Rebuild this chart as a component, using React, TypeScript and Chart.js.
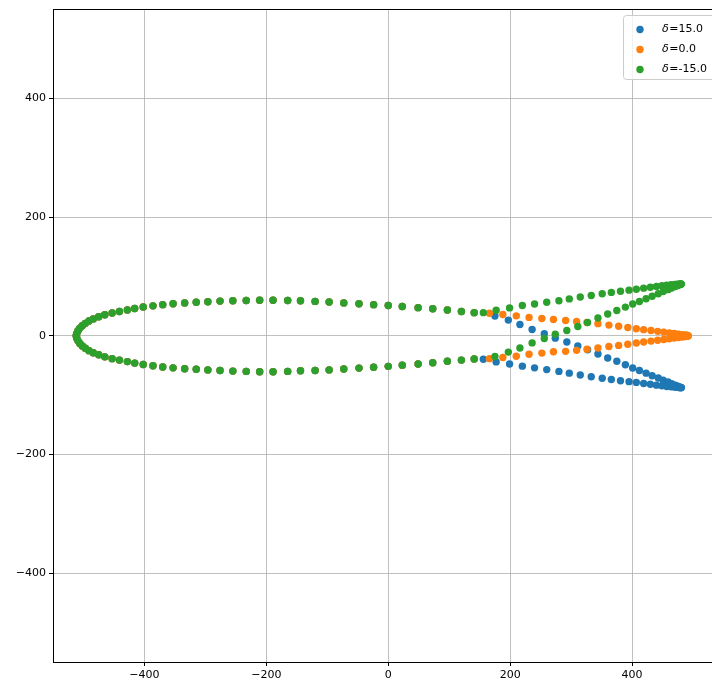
import React, { useEffect, useRef } from 'react';
import { Chart, registerables } from 'chart.js';

Chart.register(...registerables);

const SERIES_LABELS = ['δ=15.0', 'δ=0.0', 'δ=-15.0'];
const SERIES_COLORS = ['#1f77b4', '#ff7f0e', '#2ca02c'];
const TICK_VALUES = [-400, -200, 0, 200, 400];
const AXIS_MIN = -550;
const AXIS_MAX = 550;

// shared (unflapped) part of the section, leading edge to hinge
const commonUpperX = [-512, -511, -509, -506, -502, -497, -491, -484, -475, -465, -453, -441, -428, -416, -402, -386, -370, -353, -334, -315, -296, -276, -255, -233, -211, -189, -165, -144, -120, -97, -73, -48, -24, 0, 23, 49, 73, 97, 120, 141];
const commonUpperY = [0, 4, 8.5, 13, 17, 21, 25, 28.5, 32, 35.5, 38.5, 41, 43.5, 46, 48.5, 50.5, 52.5, 54, 55.5, 56.5, 57.5, 58.5, 59, 59.5, 60, 60, 59.5, 59, 58, 57, 55.5, 54, 52.5, 51, 49.5, 47.5, 45.5, 43.5, 41, 39];
const commonLowerX = [-511, -509, -506, -502, -497, -491, -484, -475, -465, -453, -441, -428, -416, -402, -386, -370, -353, -334, -315, -296, -276, -255, -233, -211, -189, -165, -144, -120, -97, -73, -48, -24, 0, 23, 49, 73, 97, 120, 141];
const commonLowerY = [-4, -8.5, -13, -17, -21, -25, -28.5, -32, -35.5, -38.5, -41, -43.5, -46, -48.5, -50.5, -52.5, -54, -55.5, -56.5, -57.5, -58.5, -59.5, -60, -60.5, -60.5, -60, -59, -58.5, -57.5, -56, -54.5, -53, -51.5, -49.5, -47.5, -45.5, -43, -41, -39];

// δ = 15.0 (flap down)
const blueUpperX = [175, 197, 216, 236, 256, 274, 293, 311, 327, 344, 360, 375, 389, 401, 412, 423, 433, 443, 451, 459, 465, 471, 475, 478, 480, 481];
const blueUpperY = [33.5, 26.5, 19, 10.5, 3.5, -4, -10.5, -17, -23.5, -30.7, -37.4, -43, -48.8, -54.2, -58.5, -63, -67.3, -71.2, -74.8, -78, -80.8, -83.3, -85, -86.2, -86.9, -87.3];
const blueLowerX = [156, 177, 199, 220, 240, 260, 280, 297, 315, 333, 351, 366, 381, 395, 407, 419, 430, 440, 449, 457, 464, 470, 474, 477, 479, 480];
const blueLowerY = [-39.5, -44, -47.5, -51.2, -54, -57, -60, -63, -66, -69, -71.5, -73.8, -75.8, -77.3, -78.6, -80.3, -81.8, -83.2, -84.4, -85.4, -86.1, -86.6, -87, -87.2, -87.4, -87.5];

// δ = 0.0
const orangeUpperX = [166, 188, 210, 231, 252, 271, 291, 309, 326, 344, 362, 378, 393, 407, 419, 431, 442, 452, 461, 469, 476, 482, 486, 489, 491, 492];
const orangeUpperY = [38, 36, 33.6, 31, 29.2, 27.4, 25.8, 24.3, 22.5, 20.5, 18, 16, 14, 12, 10.4, 8.9, 7.5, 6.2, 5, 3.9, 2.9, 2, 1.4, 0.9, 0.5, 0.2];
const orangeLowerX = [166, 188, 210, 231, 252, 271, 291, 309, 326, 344, 362, 378, 393, 407, 419, 431, 442, 452, 461, 469, 476, 482, 486, 489, 491, 492];
const orangeLowerY = [-38.5, -36.5, -34.5, -31, -29.2, -27, -26.2, -24.5, -22.8, -20.6, -18, -16.2, -14.3, -12.2, -10.4, -8.9, -7.5, -6.2, -5, -3.9, -2.9, -2, -1.4, -0.9, -0.5, -0.2];

// δ = -15.0 (flap up)
const greenUpperX = [156, 177, 199, 220, 240, 260, 280, 297, 315, 333, 351, 366, 381, 395, 407, 419, 430, 440, 449, 457, 464, 470, 474, 477, 479, 480];
const greenUpperY = [39, 43, 47, 51, 53.5, 56.5, 59, 62.2, 65.3, 68, 71, 73.2, 75.2, 77, 78.6, 80.3, 81.8, 83.2, 84.4, 85.4, 86.1, 86.6, 87, 87.2, 87.4, 87.5];
const greenLowerX = [175, 197, 216, 236, 256, 274, 293, 311, 327, 344, 360, 375, 389, 401, 412, 423, 433, 443, 451, 459, 465, 471, 475, 478, 480, 481];
const greenLowerY = [-35, -27.5, -20.5, -12, -4.5, 2.5, 9, 15.8, 22.5, 30, 36.8, 42.6, 48.4, 53.5, 57.8, 62.5, 66.8, 70.8, 74.5, 77.8, 80.6, 83.1, 84.9, 86.1, 86.8, 87.2];

const zip = (xs: number[], ys: number[]) => xs.map((x, i) => ({ x, y: ys[i] }));

const seriesPoints = [
  [
    ...zip(commonUpperX, commonUpperY), ...zip(blueUpperX, blueUpperY),
    ...zip(commonLowerX, commonLowerY), ...zip(blueLowerX, blueLowerY),
  ],
  [
    ...zip(commonUpperX, commonUpperY), ...zip(orangeUpperX, orangeUpperY),
    ...zip(commonLowerX, commonLowerY), ...zip(orangeLowerX, orangeLowerY),
  ],
  [
    ...zip(commonUpperX, commonUpperY), ...zip(greenUpperX, greenUpperY),
    ...zip(commonLowerX, commonLowerY), ...zip(greenLowerX, greenLowerY),
  ],
];

const FONT = 'DejaVu Sans';
const fmt = (v: number) => String(v).replace('-', '\u2212');

const framePlugin = {
  id: 'frameAndLegend',
  afterDraw(chart: any) {
    const { ctx, chartArea: a } = chart;
    ctx.save();
    // spines
    ctx.strokeStyle = '#000';
    ctx.lineWidth = 1;
    const l = Math.floor(a.left) + 0.5;
    const t = Math.floor(a.top) + 0.5;
    const r = Math.floor(a.right) + 0.5;
    const b = Math.floor(a.bottom) + 0.5;
    ctx.strokeRect(l, t, r - l, b - t);

    // legend box
    const bx = 623.5, by = 15.5, bw = 100, bh = 64, rad = 3;
    ctx.beginPath();
    ctx.moveTo(bx + rad, by);
    ctx.lineTo(bx + bw - rad, by);
    ctx.arcTo(bx + bw, by, bx + bw, by + rad, rad);
    ctx.lineTo(bx + bw, by + bh - rad);
    ctx.arcTo(bx + bw, by + bh, bx + bw - rad, by + bh, rad);
    ctx.lineTo(bx + rad, by + bh);
    ctx.arcTo(bx, by + bh, bx, by + bh - rad, rad);
    ctx.lineTo(bx, by + rad);
    ctx.arcTo(bx, by, bx + rad, by, rad);
    ctx.closePath();
    ctx.fillStyle = 'rgba(255,255,255,0.8)';
    ctx.fill();
    ctx.strokeStyle = '#cccccc';
    ctx.stroke();

    SERIES_LABELS.forEach((label, i) => {
      const cy = 29.5 + i * 20;
      ctx.beginPath();
      ctx.arc(640, cy, 3.7, 0, Math.PI * 2);
      ctx.fillStyle = SERIES_COLORS[i];
      ctx.fill();
      ctx.fillStyle = '#000';
      ctx.textBaseline = 'middle';
      ctx.textAlign = 'left';
      const sym = label.charAt(0);
      const rest = label.slice(1);
      ctx.font = `italic 11px "${FONT}"`;
      ctx.fillText(sym, 662, cy);
      const w = ctx.measureText(sym).width;
      ctx.font = `11px "${FONT}"`;
      ctx.fillText(rest, 662 + w + 0.5, cy);
    });
    ctx.restore();
  },
};

export default function App() {
  const ref = useRef<HTMLCanvasElement | null>(null);

  useEffect(() => {
    if (!ref.current) return;
    const order = [3, 2, 1];
    const chart = new Chart(ref.current, {
      type: 'scatter',
      data: {
        datasets: SERIES_LABELS.map((label, i) => ({
          label,
          data: seriesPoints[i],
          backgroundColor: SERIES_COLORS[i],
          borderColor: SERIES_COLORS[i],
          pointRadius: 3.7,
          pointHoverRadius: 3.7,
          pointBorderWidth: 0,
          order: order[i],
        })),
      },
      options: {
        responsive: false,
        animation: false,
        devicePixelRatio: 1,
        events: [],
        layout: { padding: { left: 0, top: 9, right: 11.5, bottom: 0 } },
        plugins: {
          legend: { display: false },
          tooltip: { enabled: false },
        },
        scales: {
          x: {
            type: 'linear',
            min: AXIS_MIN,
            max: AXIS_MAX,
            afterBuildTicks: (s: any) => { s.ticks = TICK_VALUES.map((v) => ({ value: v })); },
            afterFit: (s: any) => { s.height = 22; },
            border: { display: false },
            grid: { color: '#b0b0b0', lineWidth: 0.8, tickColor: '#000', tickLength: 4, tickWidth: 1 },
            ticks: {
              color: '#000',
              font: { family: FONT, size: 11 },
              padding: 3,
              maxRotation: 0,
              autoSkip: false,
              callback: (v: any) => fmt(Number(v)),
            },
          },
          y: {
            type: 'linear',
            min: AXIS_MIN,
            max: AXIS_MAX,
            afterBuildTicks: (s: any) => { s.ticks = TICK_VALUES.map((v) => ({ value: v })); },
            afterFit: (s: any) => { s.width = 53; },
            border: { display: false },
            grid: { color: '#b0b0b0', lineWidth: 0.8, tickColor: '#000', tickLength: 4, tickWidth: 1 },
            ticks: {
              color: '#000',
              font: { family: FONT, size: 11 },
              padding: 3,
              autoSkip: false,
              callback: (v: any) => fmt(Number(v)),
            },
          },
        },
      },
      plugins: [framePlugin],
    });
    return () => chart.destroy();
  }, []);

  return (
    <div style={{ position: 'absolute', left: 0, top: 0, width: 712, height: 684, overflow: 'hidden', background: '#fff' }}>
      <canvas ref={ref} width={735} height={684} style={{ display: 'block', width: 735, height: 684 }} />
    </div>
  );
}
